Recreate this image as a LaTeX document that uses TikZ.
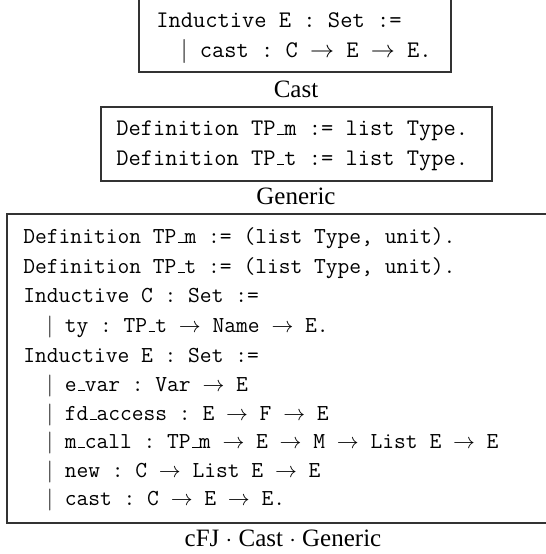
\documentclass[tikz,border=0pt]{standalone}
\usepackage{fontspec}
\setmainfont{Liberation Serif}
\setmonofont{Latin Modern Mono}
\newcommand\usc{\leavevmode\kern.06em\vbox{\hrule width.3em}}
\newcommand\myarr{$\rightarrow$}
\newcommand\mybar{\phantom{xx}$\mid$ }
\tikzset{
  boxline/.style={draw=black!80, line width=0.9pt},
  codeA/.style={anchor=base west, inner sep=0pt, font=\fontsize{11.9}{14}\selectfont\ttfamily},
  codeB/.style={anchor=base west, inner sep=0pt, font=\fontsize{11.43}{14}\selectfont\ttfamily},
  capt/.style={anchor=base, inner sep=0pt, font=\fontsize{12.5}{15}\selectfont},
}
\begin{document}
\begin{tikzpicture}[x=0.5pt,y=-0.5pt]
\useasboundingbox (0,0) rectangle (546,554);
% box 1
\draw[boxline] (139,-3) rectangle (451,72);
\node[codeA] (a1) at (156,27) {Inductive E : Set :=};
\node[codeA] (a2) at (156,57) {\mybar cast : C \myarr{} E \myarr{} E.};
\node[capt] (c1) at (296,97) {Cast};
% box 2
\draw[boxline] (101,107) rectangle (492,181);
\node[codeA] (b1) at (116,135) {Definition TP\usc m := list Type.};
\node[codeA] (b2) at (116,165) {Definition TP\usc t := list Type.};
\node[capt] (c2) at (296,204) {Generic};
% box 3
\draw[boxline] (7,214) rectangle (559,523);
\node[codeB] (d1) at (23,243) {Definition TP\usc m := (list Type, unit).};
\node[codeB] (d2) at (23,273) {Definition TP\usc t := (list Type, unit).};
\node[codeB] (d3) at (23,302) {Inductive C : Set :=};
\node[codeB] (d4) at (23,332) {\mybar ty : TP\usc t \myarr{} Name \myarr{} E.};
\node[codeB] (d5) at (23,362) {Inductive E : Set :=};
\node[codeB] (d6) at (23,391) {\mybar e\usc var : Var \myarr{} E};
\node[codeB] (d7) at (23,420) {\mybar fd\usc access : E \myarr{} F \myarr{} E};
\node[codeB] (d8) at (23,448) {\mybar m\usc call : TP\usc m \myarr{} E \myarr{} M \myarr{} List E \myarr{} E};
\node[codeB] (d9) at (23,477) {\mybar new : C \myarr{} List E \myarr{} E};
\node[codeB] (d10) at (23,505) {\mybar cast : C \myarr{} E \myarr{} E.};
\node[capt] (c3) at (283,546) {cFJ $\cdot$ Cast $\cdot$ Generic};
\end{tikzpicture}
\end{document}
